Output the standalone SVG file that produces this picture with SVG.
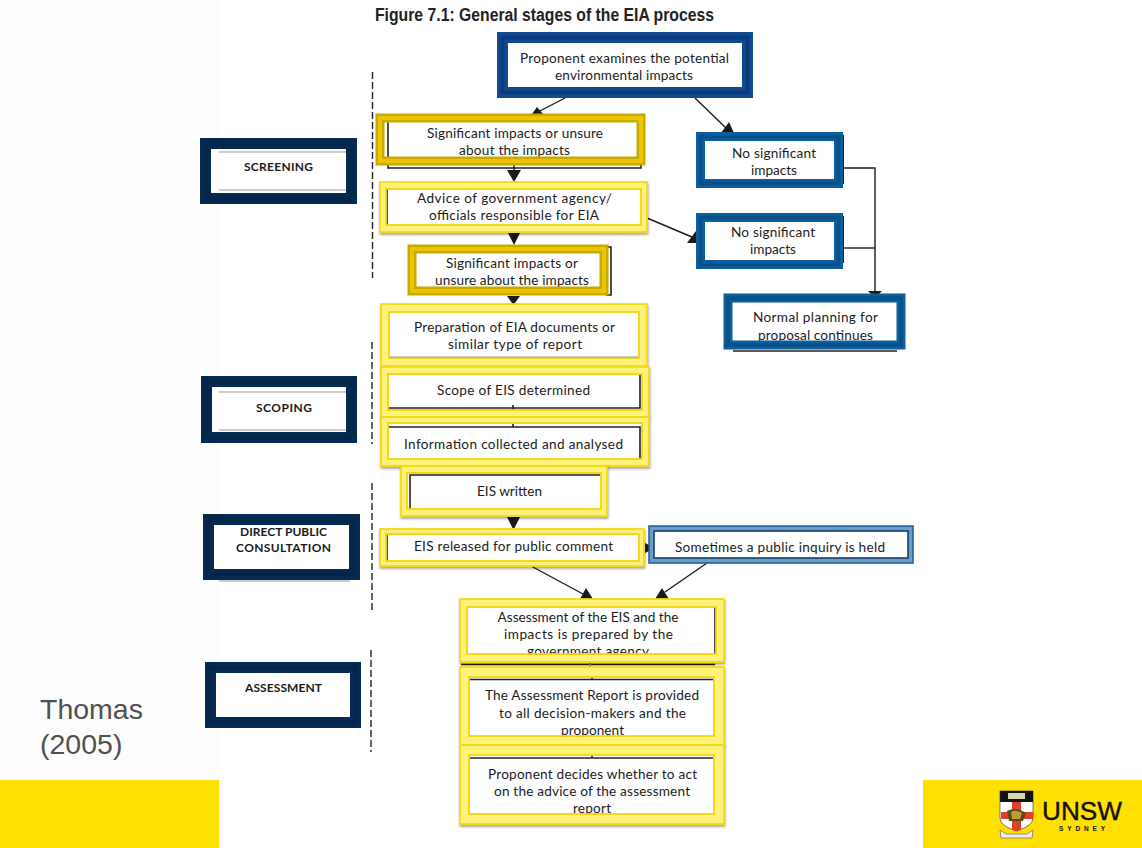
<svg xmlns="http://www.w3.org/2000/svg" width="1142" height="848" viewBox="0 0 1142 848">
<style>
text{font-family:"Lato","Open Sans","Liberation Sans",sans-serif;fill:#1c1c1c}
.t{font-size:13.6px}
.b{font-size:12px;font-weight:700;fill:#1a1a1a}
.title{font-family:"Liberation Sans",Arial,sans-serif;font-size:18px;font-weight:700;fill:#222}
.src{font-family:"Liberation Sans",Arial,sans-serif;font-size:28.5px;fill:#505050}
.w{fill:#fff}
.n{fill:none}
.ln{stroke:#1c1c1c;stroke-width:1.4;fill:none}
.hd{fill:#1a1a1a}
.scan{stroke:#222;stroke-width:1.6;fill:none}
.dash{stroke:#222;stroke-width:1.4;stroke-dasharray:7 3;fill:none}
.yo{fill:#fff27a;stroke:#f6d916;stroke-width:1.8;filter:url(#sh)}
.yi{fill:none;stroke:#f6d30c;stroke-width:1.8}
.gold{fill:none;stroke:#c9a900;stroke-width:9}
.gold2{fill:none;stroke:#e9c600;stroke-width:4}
.nv{fill:none;stroke:#052a52;stroke-width:11}
.nv2{fill:none;stroke:#03254a;stroke-width:4}
.bl{fill:none;stroke:#0a5f9f;stroke-width:9}
.bl2{fill:none;stroke:#08508a;stroke-width:4}
.db{fill:none;stroke:#104a93;stroke-width:11}
.db2{fill:none;stroke:#0a3a7a;stroke-width:4}
</style>
<defs>
<filter id="sh" x="-5%" y="-10%" width="110%" height="125%"><feDropShadow dx="0.5" dy="2" stdDeviation="1.2" flood-color="#000" flood-opacity="0.35"/></filter>
</defs>
<rect width="1142" height="848" fill="#fff"/>
<rect width="219" height="848" fill="#fdfdfd"/>
<rect y="780" width="219" height="68" fill="#ffe000"/>
<rect x="923" y="780" width="219" height="68" fill="#ffe000"/>
<text class="title" x="375" y="21" textLength="339" lengthAdjust="spacingAndGlyphs">Figure 7.1: General stages of the EIA process</text>
<text class="src" x="40" y="719">Thomas</text>
<text class="src" x="40" y="754">(2005)</text>

<g id="connectors">
<path class="dash" d="M372.5 72V278M372 342V444M372 483V610M371 650V752"/>
<path class="ln" d="M565 98L538 112"/><path class="hd" d="M537 107L543 114H532Z"/>
<path class="ln" d="M695 98L727 129"/><path class="hd" d="M729 122L734 133H721Z"/>
<path class="ln" d="M514 165V172"/><path class="hd" d="M507 170H521L514 182Z"/>
<path class="ln" d="M514 232V236"/><path class="hd" d="M508 233H520L514 245Z"/>
<path class="hd" d="M507 296H520L513.500 305Z"/>
<path class="ln" d="M647 218L692 237"/><path class="hd" d="M696 231V243H687Z"/>
<path class="ln" d="M843 168H875V292"/><path class="ln" d="M843 248H875"/>
<path class="hd" d="M868 291H882L878 295H872Z"/>
<path class="hd" d="M507 517H520L513.500 530Z"/>
<path class="hd" d="M645 543L649 545V551L645 553Z"/>
<path class="ln" d="M531 566L583 594"/><path class="hd" d="M586 588L593 599H580Z"/>
<path class="ln" d="M707 563L665 592"/><path class="hd" d="M662 588L669 599H655Z"/>
</g>

<g id="label-screening">
<rect class="w" x="211" y="149" width="135" height="44"/>
<path d="M219 152H346M219 190H346" stroke="#999" fill="none"/>
<text class="b" x="244" y="171" textLength="69">SCREENING</text>
<rect class="nv" x="205.500" y="143.500" width="146" height="55"/><rect class="nv2" x="205.500" y="143.500" width="146" height="55"/>
</g>
<g id="label-scoping">
<rect class="w" x="212" y="387" width="134" height="45"/>
<path d="M219 392H346M219 430H346" stroke="#999" fill="none"/>
<text class="b" x="256" y="412" textLength="56">SCOPING</text>
<rect class="nv" x="206.500" y="381.500" width="145" height="56"/><rect class="nv2" x="206.500" y="381.500" width="145" height="56"/>
</g>
<g id="label-consultation">
<rect class="w" x="214" y="525" width="135" height="44"/>
<text class="b" x="240" y="536" textLength="87">DIRECT PUBLIC</text>
<text class="b" x="236" y="552" textLength="95">CONSULTATION</text>
<path d="M219 581H350" stroke="#999" fill="none"/>
<rect class="nv" x="208.500" y="519.500" width="146" height="55"/><rect class="nv2" x="208.500" y="519.500" width="146" height="55"/>
</g>
<g id="label-assessment">
<rect class="w" x="215" y="673" width="135" height="44"/>
<text class="b" x="245" y="692" textLength="77">ASSESSMENT</text>
<rect class="nv" x="210.500" y="667.500" width="145" height="55"/><rect class="nv2" x="210.500" y="667.500" width="145" height="55"/>
</g>

<g id="node-proponent">
<rect class="w" x="508" y="43" width="234" height="45"/>
<text class="t" x="520" y="63" textLength="209">Proponent examines the potential</text>
<text class="t" x="555" y="80" textLength="138">environmental impacts</text>
<rect class="db" x="502.500" y="37.500" width="245" height="55"/><rect class="db2" x="502.500" y="37.500" width="245" height="55"/>
</g>
<g id="node-significant-1">
<path class="scan" d="M388 122V168H641V157"/>
<rect class="w" x="384" y="122" width="253" height="35"/>
<path class="scan" d="M388 122V157"/>
<text class="t" x="427" y="138" textLength="176">Significant impacts or unsure</text>
<text class="t" x="459" y="155" textLength="111">about the impacts</text>
<rect class="gold" x="380" y="118" width="261" height="43"/><rect class="gold2" x="380" y="118" width="261" height="43"/>
</g>
<g id="node-advice">
<rect class="yo" x="380" y="182" width="267" height="50"/>
<rect class="w" x="386" y="189" width="255" height="36"/>
<path class="scan" d="M387 189V225" stroke="#555"/>
<text class="t" x="417" y="203" textLength="195">Advice of government agency/</text>
<text class="t" x="429" y="220" textLength="170">officials responsible for EIA</text>
<rect class="yi" x="386" y="189" width="255" height="36"/>
</g>
<g id="node-significant-2">
<path class="scan" d="M606 247H611V295H606"/>
<rect class="w" x="416" y="253" width="184" height="34"/>
<text class="t" x="446" y="268" textLength="132">Significant impacts or</text>
<text class="t" x="435" y="285" textLength="154">unsure about the impacts</text>
<rect class="gold" x="412" y="249" width="192" height="42"/><rect class="gold2" x="412" y="249" width="192" height="42"/>
</g>
<g id="node-no-1">
<path d="M843 135V184" stroke="#222" stroke-width="2" fill="none"/>
<rect class="w" x="705" y="141" width="129" height="38"/>
<text class="t" x="732" y="158" textLength="84">No significant</text>
<text class="t" x="751" y="175" textLength="46">impacts</text>
<rect class="bl" x="700.500" y="136.500" width="138" height="47"/><rect class="bl2" x="700.500" y="136.500" width="138" height="47"/>
</g>
<g id="node-no-2">
<path d="M843 216V263" stroke="#222" stroke-width="2" fill="none"/>
<rect class="w" x="705" y="222" width="129" height="38"/>
<text class="t" x="731" y="237" textLength="84">No significant</text>
<text class="t" x="750" y="254" textLength="46">impacts</text>
<rect class="bl" x="700.500" y="217.500" width="138" height="47"/><rect class="bl2" x="700.500" y="217.500" width="138" height="47"/>
</g>
<g id="node-normal">
<path class="scan" d="M733 351H897"/>
<rect class="w" x="733" y="303" width="163" height="38"/>
<text class="t" x="753" y="322" textLength="125">Normal planning for</text>
<text class="t" x="758" y="340" textLength="115">proposal continues</text>
<rect class="bl" x="728" y="298" width="173" height="47"/><rect class="bl2" x="728" y="298" width="173" height="47"/>
</g>

<g id="node-preparation">
<rect class="yo" x="381" y="304" width="266" height="62"/>
<rect class="w" x="389" y="312" width="250" height="46"/>
<path class="scan" d="M390 357.500H638"/>
<text class="t" x="414" y="332" textLength="201">Preparation of EIA documents or</text>
<text class="t" x="448" y="349" textLength="134">similar type of report</text>
<rect class="yi" x="389" y="312" width="250" height="46"/>
</g>
<g id="node-scope">
<rect class="yo" x="381" y="367" width="268" height="50"/>
<rect class="w" x="388" y="374" width="254" height="36"/>
<path class="scan" d="M388 408H640V375M513 405V410"/>
<text class="t" x="437" y="395" textLength="153">Scope of EIS determined</text>
<rect class="yi" x="388" y="374" width="254" height="36"/>
</g>
<g id="node-information">
<rect class="yo" x="381" y="417" width="268" height="49"/>
<rect class="w" x="388" y="423" width="254" height="36"/>
<path class="scan" d="M388 427H640V459M513 424V427"/>
<text class="t" x="404" y="449" textLength="219">Information collected and analysed</text>
<rect class="yi" x="388" y="423" width="254" height="36"/>
</g>
<g id="node-written">
<rect class="yo" x="401" y="466" width="206" height="50"/>
<rect class="w" x="407" y="473" width="194" height="36"/>
<path class="scan" d="M410 509V475H601"/>
<text class="t" x="477" y="496" textLength="65">EIS written</text>
<rect class="yi" x="407" y="473" width="194" height="36"/>
</g>
<g id="node-released">
<rect class="yo" x="380" y="529" width="264" height="37"/>
<rect class="w" x="386" y="534" width="253" height="27"/>
<path class="scan" d="M387 534V561"/>
<text class="t" x="414" y="551" textLength="199">EIS released for public comment</text>
<rect class="yi" x="386" y="534" width="253" height="27"/>
</g>
<g id="node-inquiry">
<rect x="649" y="526" width="264" height="37" fill="#6d9cc9" stroke="#1c5a97" stroke-width="1.5"/>
<rect class="w" x="654" y="531" width="254" height="27" stroke="#12406f" stroke-width="1.6"/>
<text class="t" x="675" y="552" textLength="210">Sometimes a public inquiry is held</text>
</g>
<g id="node-assessment">
<path class="scan" d="M461 664.500H715"/>
<path d="M590 663V667" stroke="#888" stroke-width="2" fill="none"/>
<rect class="yo" x="460" y="599" width="264" height="63"/>
<rect class="w" x="467" y="607" width="249" height="47"/>
<path class="scan" d="M715 607V654"/>
<text class="t" x="497.500" y="622" textLength="181">Assessment of the EIS and the</text>
<text class="t" x="504" y="639" textLength="169">impacts is prepared by the</text>
<text class="t" x="527" y="656" textLength="122">government agency</text>
<rect class="yi" x="467" y="607" width="249" height="47" stroke-width="1.8"/>
<rect x="460" y="655" width="264" height="7" fill="#fff27a"/>
<path d="M460 655V662H724V655" class="n" stroke="#f6d916" stroke-width="1.8"/>
</g>
<g id="node-report">
<rect class="yo" x="460" y="667" width="264" height="78"/>
<rect class="w" x="469" y="677" width="245" height="59"/>
<path class="scan" d="M470 679.500H713M592 677V680"/>
<text class="t" x="485" y="700" textLength="214">The Assessment Report is provided</text>
<text class="t" x="499" y="718" textLength="187">to all decision-makers and the</text>
<text class="t" x="561" y="735" textLength="63">proponent</text>
<rect class="yi" x="469" y="677" width="245" height="59"/>
<rect x="470" y="737" width="243" height="4" fill="#fff27a"/>
</g>
<g id="node-decision">
<rect class="yo" x="460" y="745" width="264" height="79"/>
<rect class="w" x="469" y="755" width="245" height="59"/>
<path class="scan" d="M470 758H713M592 755V758"/>
<text class="t" x="488" y="779" textLength="209">Proponent decides whether to act</text>
<text class="t" x="494" y="796" textLength="196">on the advice of the assessment</text>
<text class="t" x="573" y="813" textLength="38">report</text>
<rect class="yi" x="469" y="755" width="245" height="59"/>
<rect x="470" y="815" width="243" height="4" fill="#fff27a"/>
</g>

<g id="logo">
<path d="M1000 791H1033V818Q1033 826 1016.500 831Q1000 826 1000 818Z" fill="#fff" stroke="#222" stroke-width="0.6"/>
<rect x="1000" y="791" width="33" height="11" fill="#111"/>
<rect x="1008" y="793" width="17" height="6" fill="#d8d4b0"/>
<path d="M1012 802H1021V812H1033V819H1021V830L1016.500 831L1012 830V819H1001V812H1012Z" fill="#e0402a"/>
<path d="M1007 811Q1016 806 1026 813L1023 821H1009Z" fill="#5a4a18"/>
<path d="M1011 812Q1016 809 1022 813L1020 819H1012Z" fill="#c09a30"/>
<path d="M1000 830L1006 834L1027 834L1033 830L1032 838H1001Z" fill="#eee" stroke="#555" stroke-width="0.6"/>
<text x="1042" y="820" style="font-family:'Liberation Sans',Arial,sans-serif;font-size:26px;fill:#111;stroke:#111;stroke-width:0.4" textLength="80" lengthAdjust="spacingAndGlyphs">UNSW</text>
<text x="1059" y="831" style="font-family:'Liberation Sans',Arial,sans-serif;font-size:6.500px;font-weight:700;fill:#111" textLength="46">SYDNEY</text>
</g>
</svg>
